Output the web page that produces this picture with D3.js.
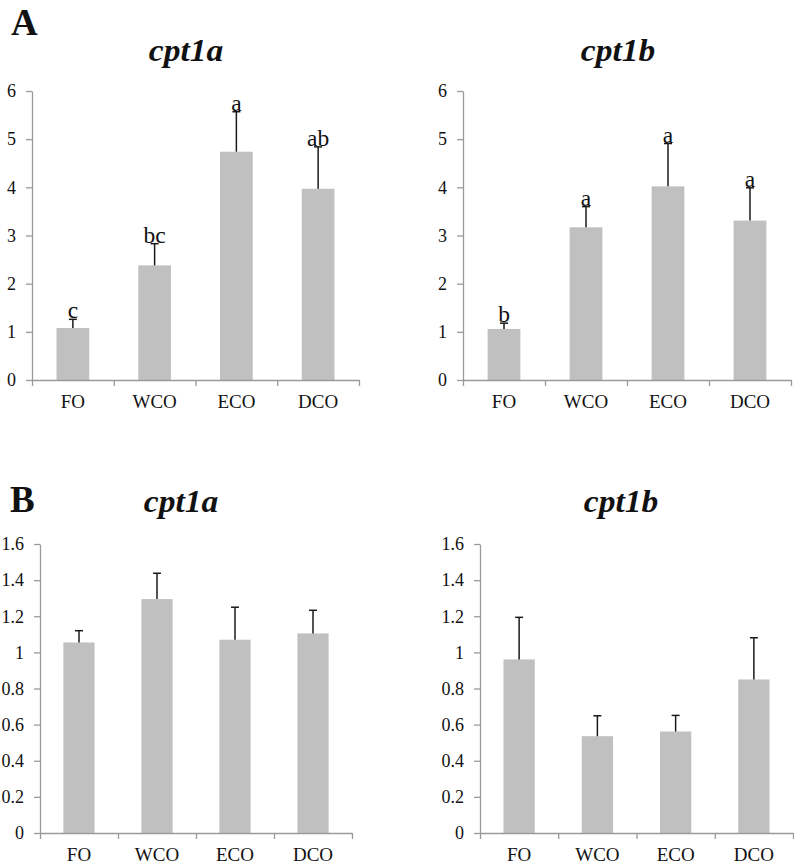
<!DOCTYPE html>
<html>
<head>
<meta charset="utf-8">
<script src="https://cdn.jsdelivr.net/npm/d3@7"></script>
<style>
  html, body { margin: 0; padding: 0; background: #fff; }
  svg { display: block; }
  text { font-family: "Liberation Serif", "Times New Roman", serif; fill: #111; }
</style>
</head>
<body>
<svg id="chart" width="794" height="867"></svg>
<script>
// ---- data ----
const categories = ["FO", "WCO", "ECO", "DCO"];

const aCpt1aMean = [1.08, 2.38, 4.74, 3.97];
const aCpt1aErr = [0.18, 0.45, 0.83, 0.87];
const aCpt1aLetters = ["c", "bc", "a", "ab"];

const aCpt1bMean = [1.06, 3.17, 4.02, 3.31];
const aCpt1bErr = [0.12, 0.43, 0.89, 0.68];
const aCpt1bLetters = ["b", "a", "a", "a"];

const bCpt1aMean = [1.055, 1.295, 1.07, 1.105];
const bCpt1aErr = [0.065, 0.143, 0.18, 0.128];

const bCpt1bMean = [0.961, 0.536, 0.562, 0.850];
const bCpt1bErr = [0.233, 0.113, 0.089, 0.231];

const aTicks = [0, 1, 2, 3, 4, 5, 6];
const bTicks = [0, 0.2, 0.4, 0.6, 0.8, 1, 1.2, 1.4, 1.6];

const panelLetters = ["A", "B"];
const geneTitles = ["cpt1a", "cpt1b"];

// ---- drawing ----
const svg = d3.select("#chart");

function drawPanel(cfg) {
  const g = svg.append("g");
  const y = d3.scaleLinear().domain([0, cfg.ticks[cfg.ticks.length - 1]]).range([cfg.y0, cfg.y1]);
  const x = d3.scaleBand().domain(categories).range([cfg.x0, cfg.x1]).paddingInner(0.6).paddingOuter(0.3);
  const xb = d3.scaleLinear().domain([0, categories.length]).range([cfg.x0, cfg.x1]);

  // bars
  g.selectAll("rect.bar").data(cfg.mean).join("rect")
    .attr("class", "bar")
    .attr("x", (d, i) => x(categories[i]))
    .attr("width", x.bandwidth())
    .attr("y", d => y(d))
    .attr("height", d => y(0) - y(d))
    .attr("fill", "#c0c0c0");

  // error bars (upper only)
  const eb = g.selectAll("g.err").data(cfg.mean).join("g").attr("class", "err");
  eb.append("line")
    .attr("x1", (d, i) => x(categories[i]) + x.bandwidth() / 2)
    .attr("x2", (d, i) => x(categories[i]) + x.bandwidth() / 2)
    .attr("y1", d => y(d))
    .attr("y2", (d, i) => y(d + cfg.err[i]))
    .attr("stroke", "#1a1a1a").attr("stroke-width", 1.5);
  eb.append("line")
    .attr("x1", (d, i) => x(categories[i]) + x.bandwidth() / 2 - 4)
    .attr("x2", (d, i) => x(categories[i]) + x.bandwidth() / 2 + 4)
    .attr("y1", (d, i) => y(d + cfg.err[i]))
    .attr("y2", (d, i) => y(d + cfg.err[i]))
    .attr("stroke", "#1a1a1a").attr("stroke-width", 1.5);

  // significance letters
  if (cfg.letters) {
    g.selectAll("text.sig").data(cfg.letters).join("text")
      .attr("class", "sig")
      .attr("x", (d, i) => x(categories[i]) + x.bandwidth() / 2)
      .attr("y", (d, i) => y(cfg.mean[i] + cfg.err[i]) - 1)
      .attr("text-anchor", "middle")
      .attr("font-size", 23.5)
      .text(d => d);
  }

  // y axis
  const yAxis = d3.axisLeft(y).tickValues(cfg.ticks).tickSize(6).tickSizeOuter(0).tickPadding(10)
    .tickFormat(d => String(+d.toFixed(1)));
  const ya = g.append("g").attr("transform", `translate(${cfg.x0},0)`).call(yAxis);
  ya.attr("font-size", null).attr("font-family", null);
  ya.select(".domain").attr("stroke", "#9a9a9a").attr("stroke-width", 1.3);
  ya.selectAll(".tick line").attr("stroke", "#9a9a9a").attr("stroke-width", 1.3);
  ya.selectAll(".tick text").attr("font-size", 18).attr("fill", "#111");

  // x axis line with boundary ticks
  const xAxis = d3.axisBottom(xb).tickValues(d3.range(categories.length + 1)).tickSize(6).tickSizeOuter(0).tickFormat("");
  const xa = g.append("g").attr("transform", `translate(0,${cfg.y0})`).call(xAxis);
  xa.select(".domain").attr("stroke", "#9a9a9a").attr("stroke-width", 1.3);
  xa.selectAll(".tick line").attr("stroke", "#9a9a9a").attr("stroke-width", 1.3);

  // category labels
  const xl = d3.axisBottom(x).tickSize(0).tickPadding(15);
  const xla = g.append("g").attr("transform", `translate(0,${cfg.y0})`).call(xl);
  xla.attr("font-size", null).attr("font-family", null);
  xla.select(".domain").remove();
  xla.selectAll(".tick text").attr("font-size", 19).attr("fill", "#111");

  // title
  g.append("text")
    .attr("transform", `translate(${cfg.titleX},${cfg.titleY}) scale(1.08,1)`)
    .attr("text-anchor", "middle")
    .attr("font-size", 31).attr("font-weight", "bold").attr("font-style", "italic")
    .text(cfg.title);
}

drawPanel({ mean: aCpt1aMean, err: aCpt1aErr, letters: aCpt1aLetters, ticks: aTicks,
  x0: 32, x1: 359, y0: 380, y1: 91, title: geneTitles[0], titleX: 186, titleY: 61 });
drawPanel({ mean: aCpt1bMean, err: aCpt1bErr, letters: aCpt1bLetters, ticks: aTicks,
  x0: 463, x1: 791, y0: 380, y1: 91, title: geneTitles[1], titleX: 618, titleY: 61 });
drawPanel({ mean: bCpt1aMean, err: bCpt1aErr, letters: null, ticks: bTicks,
  x0: 40, x1: 352, y0: 833, y1: 544, title: geneTitles[0], titleX: 181, titleY: 512 });
drawPanel({ mean: bCpt1bMean, err: bCpt1bErr, letters: null, ticks: bTicks,
  x0: 480, x1: 793, y0: 833, y1: 544, title: geneTitles[1], titleX: 621, titleY: 512 });

// panel letters
svg.append("text").attr("x", 11).attr("y", 35).attr("font-size", 37).attr("font-weight", "bold").text(panelLetters[0]);
svg.append("text").attr("x", 10).attr("y", 512).attr("font-size", 37).attr("font-weight", "bold").text(panelLetters[1]);
</script>
</body>
</html>
